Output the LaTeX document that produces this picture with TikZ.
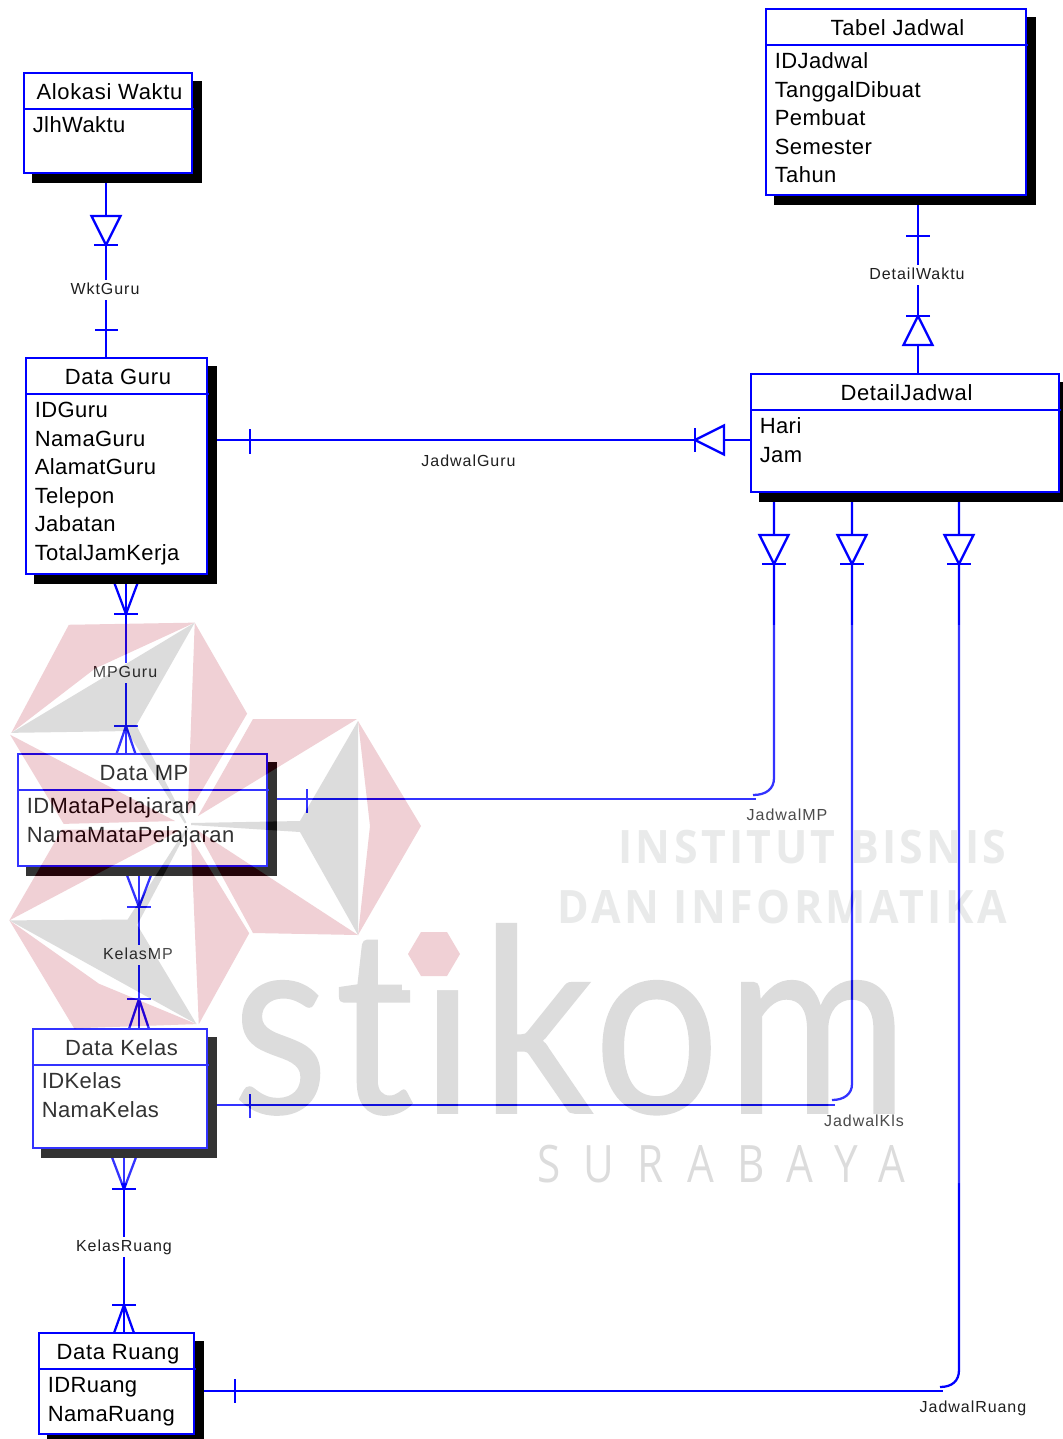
\documentclass[tikz,border=0pt]{standalone}
\usepackage{fontspec}
\usepackage{graphicx}
\setmainfont{Liberation Sans}
\newfontfamily\entfont[LetterSpace=3]{Liberation Sans}
\newfontfamily\attfont[LetterSpace=2]{Liberation Sans}
\newfontfamily\lblfont[LetterSpace=6]{Liberation Sans}
\newfontfamily\wmbold[LetterSpace=8]{Open Sans}
\newfontfamily\wmlogo[LetterSpace=3,Ligatures=NoCommon,FakeBold=0.6]{Lato}
\newfontfamily\wmthin[LetterSpace=55]{Open Sans}
\definecolor{erblue}{RGB}{0,0,255}
\definecolor{wmpink}{RGB}{180,20,45}
\definecolor{wmgrey}{RGB}{80,80,80}
\definecolor{wmtext}{RGB}{145,150,150}
\pgfdeclarelayer{paper}
\pgfdeclarelayer{wires}
\pgfdeclarelayer{shade}
\pgfsetlayers{paper,wires,shade,main}
\tikzset{
  conn/.style={draw=erblue,line width=1.7pt},
  entitybox/.style={draw=erblue,fill=white,line width=1.7pt,inner sep=0pt,outer sep=0pt},
  shadowbox/.style={fill=black},
  hdrline/.style={draw=erblue,line width=1.5pt},
  titletext/.style={font=\entfont\fontsize{16.5pt}{20pt}\selectfont,inner sep=0pt,anchor=base},
  attrtext/.style={font=\attfont\fontsize{16.5pt}{20pt}\selectfont,inner sep=0pt,anchor=base west},
  lbl/.style={font=\lblfont\fontsize{12pt}{14pt}\selectfont,text=black!88,inner sep=1.5pt,anchor=base,text height=9pt,text depth=3pt},
  lblfill/.style={lbl,fill=white},
  wmp/.style={fill=wmpink},
  wmg/.style={fill=wmgrey}
}
% #1 name, #2 x1, #3 y1, #4 x2, #5 y2, #6 title, #7 attributes
\newcommand\entity[7]{%
  \node[entitybox,minimum width={(#4-#2)*0.75pt},minimum height={(#5-#3)*0.75pt}] (#1) at ({(#2+#4)/2},{(#3+#5)/2}) {};
  \begin{pgfonlayer}{shade}
    \fill[shadowbox] ({#2+8},{#3+8}) rectangle ({min(#4+10,1063)},{min(#5+10,1439)});
  \end{pgfonlayer}
  \draw[hdrline] (#1.north west) ++(0,36) -- ++({#4-#2+2},0);
  \node[titletext] (#1-title) at ({(#2+#4)/2+1.5},{#3+26}) {#6};
  \foreach \t [count=\i] in {#7} {
    \node[attrtext] (#1-a\i) at ({#2+8.5},{#3+36+23.5+(\i-1)*28.6}) {\t};
  }
}
% triangle with its apex at #1,#2, bar at the apex
\newcommand\tri[3]{%
  \begin{scope}[shift={(#1,#2)},rotate=#3]
    \draw[conn,fill=white] (-14.5,-29) -- (14.5,-29) -- (0,0) -- cycle;
    \draw[conn] (-12,0) -- (12,0);
  \end{scope}}
% crow's foot: apex #1,#2, rotation #3, half width #4, length #5
\newcommand\crowfoot[5]{%
  \begin{scope}[shift={(#1,#2)},rotate=#3]
    \draw[conn] (-#4,-#5) -- (0,0) -- (#4,-#5);
    \draw[conn] (-12,0) -- (12,0);
  \end{scope}}
% one blade of the watermark emblem
\newcommand\blade[1]{%
  \begin{scope}[shift={(188,825)},rotate=#1]
    \fill[wmp] (65,-106) -- (169,-106) -- (10,-9) -- cycle;
    \fill[wmp] (170,-104) -- (233,1) -- (170,110) -- (182,1) -- cycle;
    \fill[wmp] (65,108) -- (170,110) -- (9,5) -- cycle;
    \fill[wmg] (170,-104) -- (112,-4) -- (3,-2) -- (3,0) -- (112,7) -- (170,110) -- cycle;
  \end{scope}}
\begin{document}
\begin{tikzpicture}[x=0.75pt,y=-0.75pt]
\useasboundingbox (0,0) rectangle (1063,1439);
\begin{pgfonlayer}{paper}
\fill[white] (0,0) rectangle (1063,1439);
\end{pgfonlayer}

\entity{alokasi}{24}{73}{192}{173}{Alokasi Waktu}{JlhWaktu}
\entity{tabel}{766}{9}{1026}{195}{Tabel Jadwal}{IDJadwal,TanggalDibuat,Pembuat,Semester,Tahun}
\entity{guru}{26}{358}{207}{574}{Data Guru}{IDGuru,NamaGuru,AlamatGuru,Telepon,Jabatan,TotalJamKerja}
\entity{detail}{751}{374}{1059}{492}{DetailJadwal}{Hari,Jam}
\entity{mp}{18}{754}{267}{866}{Data MP}{IDMataPelajaran,NamaMataPelajaran}
\entity{kelas}{33}{1029}{207}{1148}{Data Kelas}{IDKelas,NamaKelas}
\entity{ruang}{39}{1333}{194}{1434}{Data Ruang}{IDRuang,NamaRuang}

\coordinate (xwkt) at (106,0);
\coordinate (xdet) at (918,0);
\coordinate (xmpg) at (126,0);
\coordinate (xkmp) at (139,0);
\coordinate (xkru) at (124,0);
\coordinate (yjg) at (0,440);
\coordinate (jmpV) at (774,778);
\coordinate (jmpC) at (753,795);
\coordinate (jmpH) at (756,799);
\coordinate (jklV) at (852,1084);
\coordinate (jklC) at (832,1100);
\coordinate (jklH) at (835,1105);
\coordinate (jruV) at (959,1370);
\coordinate (jruC) at (940,1387);
\coordinate (jruH) at (943,1391);

\node[lblfill] (lwkt) at (105,294) {WktGuru};
\node[lblfill] (ldet) at (917,279) {DetailWaktu};
\node[lbl] (ljg) at (468.5,466) {JadwalGuru};
\node[lblfill] (lmpg) at (125,677) {MPGuru};
\node[lbl] (ljmp) at (787,820) {JadwalMP};
\node[lblfill] (lkmp) at (138,959) {KelasMP};
\node[lbl] (ljkl) at (864,1126) {JadwalKls};
\node[lblfill] (lkru) at (124,1251) {KelasRuang};
\node[lbl] (ljru) at (973,1412) {JadwalRuang};

\begin{pgfonlayer}{wires}
  \draw[conn] (xwkt |- alokasi.south) -- (xwkt |- guru.north);
  \draw[conn] (xdet |- tabel.south) -- (xdet |- detail.north);
  \draw[conn] (guru.east |- yjg) -- (detail.west |- yjg);
  \draw[conn] (xmpg |- guru.south) -- (xmpg |- mp.north);
  \draw[conn] (xkmp |- mp.south) -- (xkmp |- kelas.north);
  \draw[conn] (xkru |- kelas.south) -- (xkru |- ruang.north);
  \draw[conn] (jmpV |- detail.south) -- (jmpV) .. controls +(0,11) and +(13,0) .. (jmpC);
  \draw[conn] (mp.east |- jmpH) -- (jmpH);
  \draw[conn] (jklV |- detail.south) -- (jklV) .. controls +(0,10) and +(12,0) .. (jklC);
  \draw[conn] (kelas.east |- jklH) -- (jklH);
  \draw[conn] (jruV |- detail.south) -- (jruV) .. controls +(0,11) and +(12,0) .. (jruC);
  \draw[conn] (ruang.east |- jruH) -- (jruH);
  % markers on WktGuru
  \tri{106}{245}{0}
  \draw[conn] (95,330) -- (118,330);
  % markers on DetailWaktu
  \draw[conn] (906,236) -- (930,236);
  \tri{918}{316}{180}
  % markers on JadwalGuru
  \draw[conn] (250,429) -- (250,454);
  \tri{695}{440}{-90}
  % the three feet under DetailJadwal
  \tri{774}{564}{0}
  \tri{852}{564}{0}
  \tri{959}{564}{0}
  % bars at the free ends
  \draw[conn] (307,789) -- (307,813);
  \draw[conn] (250,1094) -- (250,1118);
  \draw[conn] (235,1379) -- (235,1403);
  % crow's feet
  \crowfoot{126}{614}{0}{15}{40}
  \crowfoot{126}{726}{180}{9.5}{28}
  \crowfoot{139}{907}{0}{15.5}{41}
  \crowfoot{139}{999}{180}{10}{30}
  \crowfoot{124}{1189}{0}{15.5}{41}
  \crowfoot{124}{1305}{180}{10}{28}
\end{pgfonlayer}

% watermark laid over the whole diagram
\begin{scope}[transparency group,opacity=0.2]
  \fill[white] (0,625) rectangle (1063,1183);
  \blade{0}
  \blade{121}
  \blade{-119}
  \node[inner sep=0pt,anchor=south west,text=wmtext] (wm1) at (618,864) {\resizebox{291pt}{25pt}{\wmbold\bfseries INSTITUT BISNIS}};
  \node[inner sep=0pt,anchor=south west,text=wmtext] (wm2) at (557,924) {\resizebox{337pt}{25pt}{\wmbold\bfseries DAN INFORMATIKA}};
  \node[inner sep=0pt,anchor=base west,text=wmgrey] (wm3) at (232,1113) {\resizebox{507pt}{142pt}{\wmlogo stikom}};
  \node[inner sep=0pt,anchor=south west,text=wmgrey] (wm4) at (537,1183) {\resizebox{276pt}{28pt}{\wmthin SURABAYA}};
  \fill[white] (402,905) rectangle (472,990);
  \fill[wmp] (408,954) -- (421,932) -- (447,932) -- (460,954) -- (447,976) -- (421,976) -- cycle;
\end{scope}
\end{tikzpicture}
\end{document}
